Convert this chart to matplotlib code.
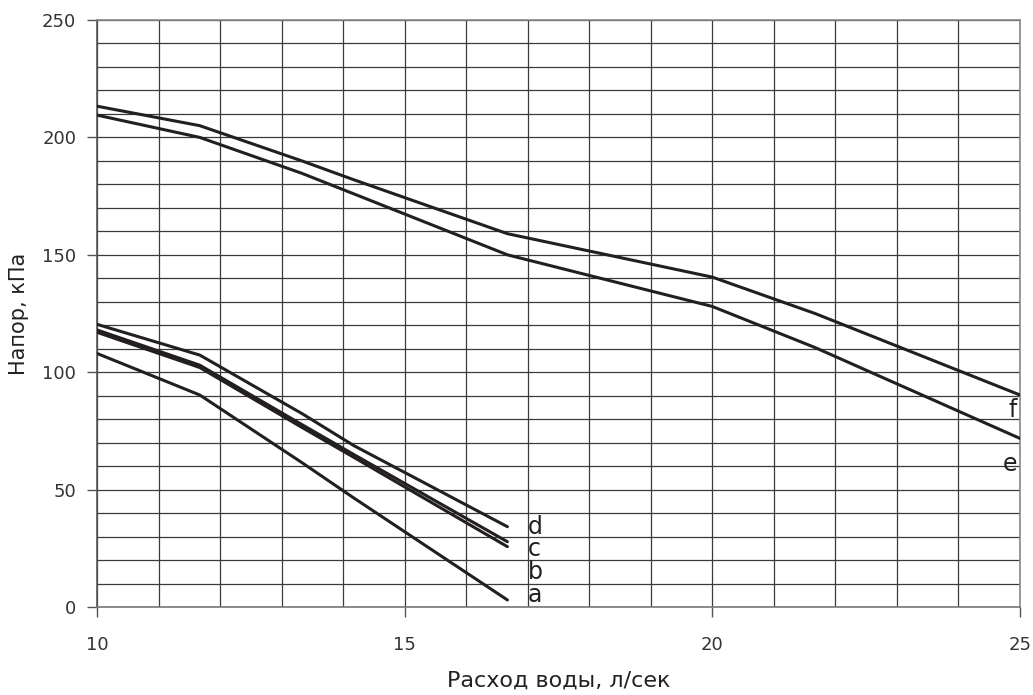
import matplotlib
matplotlib.use("Agg")
import matplotlib.pyplot as plt
import numpy as np

# расход воды, л/сек
x_upper = [10, 11.67, 13.33, 14.17, 16.67, 20, 21.67, 25]
f_vals = [213.3, 205.0, 190.0, 182.0, 159.0, 140.5, 125.0, 90.3]
e_vals = [209.5, 200.0, 184.7, 176.0, 150.0, 128.0, 110.5, 71.8]

x_lower = [10, 11.67, 13.33, 14.17, 16.67]
d_vals = [120.4, 107.3, 82.4, 68.8, 34.2]
c_vals = [118.0, 103.0, 77.7, 65.0, 27.8]
b_vals = [117.0, 102.0, 76.5, 63.8, 25.7]
a_vals = [108.0, 90.3, 61.5, 46.5, 3.0]

INK = "#231f20"
GRID = "#3a3a3a"
NARROW = ["Liberation Sans Narrow", "DejaVu Sans Condensed", "DejaVu Sans"]

fig = plt.figure(figsize=(10.33, 6.95), dpi=100)
ax = fig.add_axes([0.0939, 0.1266, 0.8935, 0.8446])

for ys in (f_vals, e_vals):
    ax.plot(x_upper, ys, color=INK, lw=2.2, solid_capstyle="round", zorder=3)
for ys in (d_vals, c_vals, b_vals, a_vals):
    ax.plot(x_lower, ys, color=INK, lw=2.2, solid_capstyle="round", zorder=3)

# подписи кривых
for txt, yy in zip("dcba", [34, 24.5, 15, 5]):
    ax.text(17.0, yy, txt, fontsize=17, color=INK, family=NARROW,
            ha="left", va="center")
ax.text(24.95, 84, "f", fontsize=17, color=INK, family=NARROW, ha="right", va="center")
ax.text(24.95, 61, "e", fontsize=17, color=INK, family=NARROW, ha="right", va="center")

ax.set_xlim(10, 25)
ax.set_ylim(0, 250)
ax.set_xticks([10, 15, 20, 25])
ax.set_yticks([0, 50, 100, 150, 200, 250])
ax.set_xticks(np.arange(10, 26, 1), minor=True)
ax.set_yticks(np.arange(0, 251, 10), minor=True)
ax.grid(which="both", color=GRID, lw=0.9, zorder=1)
ax.set_axisbelow(True)
ax.tick_params(which="major", length=7, width=1.0, color="#555555",
               labelsize=13, labelcolor="#333333")
ax.tick_params(axis="x", which="major", pad=14)
ax.tick_params(axis="y", which="major", pad=8)
ax.tick_params(which="minor", length=0)
for s in ax.spines.values():
    s.set_color("#888888")
    s.set_linewidth(1.2)
ax.spines["left"].set_color("#555555")
ax.spines["bottom"].set_color("#777777")

ax.set_xlabel("Расход воды, л/сек", fontsize=16, color="#222222", labelpad=12)
ax.set_ylabel("Напор, кПа", fontsize=15, color="#222222", labelpad=9)

fig.savefig("out.png", dpi=100, facecolor="white")
